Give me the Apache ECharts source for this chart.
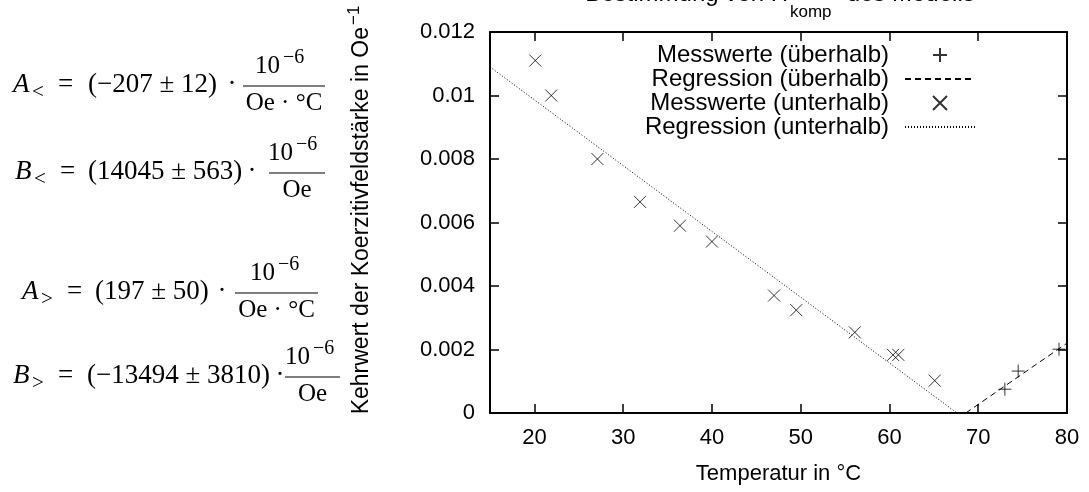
<!DOCTYPE html>
<html>
<head>
<meta charset="utf-8">
<script src="https://cdn.jsdelivr.net/npm/echarts@6/dist/echarts.min.js"></script>
<style>
  html, body { margin: 0; padding: 0; background: #fff; }
  #main { width: 1089px; height: 492px; }
</style>
</head>
<body>
<div id="main"></div>
<script>
// Messwerte unterhalb / oberhalb der Kompensationstemperatur
var belowX = [20.1, 21.9, 27.1, 31.9, 36.4, 40.0, 47.0, 49.5, 56.1, 60.4, 61.0, 65.1];
var belowY = [0.0111, 0.0100, 0.0080, 0.00665, 0.0059, 0.0054, 0.0037, 0.00324, 0.00254, 0.00183, 0.00183, 0.00102];
var aboveX = [73.0, 74.5, 79.1];
var aboveY = [0.00075, 0.00132, 0.00201];
// Regressionsgeraden (Endpunkte)
var regBelowX = [15, 67.6];
var regBelowY = [0.0109, 0];
var regAboveX = [68.6, 80];
var regAboveY = [0, 0.0022];
var xTicks = [20, 30, 40, 50, 60, 70, 80];
var names = ['Messwerte (überhalb)', 'Regression (überhalb)', 'Messwerte (unterhalb)', 'Regression (unterhalb)'];

var sans = 'Liberation Sans';
var serif = 'Liberation Serif';

function pairs(xs, ys) {
  return xs.map(function (x, i) { return [x, ys[i]]; });
}

var plusPath = 'path://M5,0L5,10M0,5L10,5';
var crossPath = 'path://M0,0L10,10M10,0L0,10';

function txt(x, y, s, font, align, valign) {
  return {
    type: 'text', x: x, y: y, silent: true,
    style: { text: s, font: font, fill: '#000', textAlign: align || 'left', textVerticalAlign: valign || 'middle' }
  };
}

// f: Positionen einer Formelzeile
function formula(f) {
  var y = f.y;
  return [
    txt(f.x, y, f.letter, 'italic 27px ' + serif),
    txt(f.x + 19, y + 7, f.sub, '21px ' + serif),
    txt(f.eq, y, '=', '27px ' + serif),
    txt(f.par, y, f.text, '27px ' + serif),
    txt(f.dot, y, '\u00b7', '27px ' + serif, 'center'),
    txt(f.num, y - 19, '10', '25px ' + serif, 'right'),
    txt(f.num + 3, y - 27, '\u22126', '20px ' + serif),
    { type: 'line', silent: true, shape: { x1: f.bar[0], y1: y + 1, x2: f.bar[1], y2: y + 1 }, style: { stroke: '#000', lineWidth: 1.2 } },
    txt((f.bar[0] + f.bar[1]) / 2, y + 18, f.den, '25px ' + serif, 'center')
  ];
}

var graphics = []
  .concat(formula({ x: 13, y: 85, letter: 'A', sub: '<', eq: 58, par: 88, text: '(\u2212207 \u00b1 12)', dot: 232, num: 280, bar: [243, 325], den: 'Oe \u00b7 \u00b0C' }))
  .concat(formula({ x: 15, y: 172, letter: 'B', sub: '<', eq: 60, par: 88, text: '(14045 \u00b1 563)', dot: 252, num: 293, bar: [269, 325], den: 'Oe' }))
  .concat(formula({ x: 22, y: 292, letter: 'A', sub: '>', eq: 67, par: 95, text: '(197 \u00b1 50)', dot: 222, num: 275, bar: [235, 318], den: 'Oe \u00b7 \u00b0C' }))
  .concat(formula({ x: 13, y: 376, letter: 'B', sub: '>', eq: 58, par: 87, text: '(\u221213494 \u00b1 3810)', dot: 280, num: 310, bar: [285, 340], den: 'Oe' }));

// Y-Achsentitel (gedreht)
graphics.push({
  type: 'group', x: 362, y: 27, rotation: Math.PI / 2, silent: true,
  children: [
    txt(0, 0, 'Kehrwert der Koerzitivfeldstärke in Oe', '23px ' + sans, 'right'),
    txt(2, -8, '\u22121', '17px ' + sans)
  ]
});

// Titel (oben abgeschnitten)
graphics.push(txt(788, 6.5, 'Bestimmung von H', '24px ' + sans, 'right', 'bottom'));
graphics.push(txt(790, 21, 'komp', '17px ' + sans, 'left', 'bottom'));
graphics.push(txt(840, 6.5, ' des Modells', '24px ' + sans, 'left', 'bottom'));

var myChart = echarts.init(document.getElementById('main'));

var axisCommon = {
  type: 'value',
  axisLine: { show: true, onZero: false, lineStyle: { color: '#000', width: 2 } },
  splitLine: { show: false }
};

var hideSymbol = { color: 'rgba(0,0,0,0)', borderWidth: 0, opacity: 0 };

var option = {
  animation: false,
  backgroundColor: '#fff',
  grid: { left: 490, right: 22, top: 32, bottom: 79, containLabel: false },
  legend: {
    data: [
      { name: names[0] },
      { name: names[1], itemStyle: hideSymbol },
      { name: names[2] },
      { name: names[3], itemStyle: hideSymbol }
    ],
    orient: 'vertical',
    align: 'right',
    left: 633,
    top: 43,
    padding: 0,
    itemGap: 0,
    itemWidth: 70,
    itemHeight: 14,
    textStyle: { fontFamily: sans, fontSize: 24, color: '#000', width: 256, align: 'right', lineHeight: 24, padding: [0, 11, 0, 0] }
  },
  xAxis: [
    Object.assign({}, axisCommon, {
      min: 15, max: 80, position: 'bottom',
      name: 'Temperatur in \u00b0C', nameLocation: 'middle', nameGap: 50,
      nameTextStyle: { fontFamily: sans, fontSize: 22, color: '#000' },
      axisTick: { show: true, inside: true, length: 9, customValues: xTicks, lineStyle: { color: '#000', width: 1.5 } },
      axisLabel: { show: true, customValues: xTicks, margin: 14, fontFamily: sans, fontSize: 22, color: '#000' }
    }),
    Object.assign({}, axisCommon, {
      min: 15, max: 80, position: 'top',
      axisTick: { show: true, inside: true, length: 9, customValues: xTicks, lineStyle: { color: '#000', width: 1.5 } },
      axisLabel: { show: false }
    })
  ],
  yAxis: [
    Object.assign({}, axisCommon, {
      min: 0, max: 0.012, interval: 0.002, position: 'left',
      axisTick: { show: true, inside: true, length: 9, lineStyle: { color: '#000', width: 1.5 } },
      axisLabel: { show: true, margin: 15, fontFamily: sans, fontSize: 22, color: '#000' }
    }),
    Object.assign({}, axisCommon, {
      min: 0, max: 0.012, interval: 0.002, position: 'right',
      axisTick: { show: true, inside: true, length: 9, lineStyle: { color: '#000', width: 1.5 } },
      axisLabel: { show: false }
    })
  ],
  series: [
    {
      name: names[0], type: 'scatter', data: pairs(aboveX, aboveY),
      symbol: plusPath, symbolSize: 13,
      itemStyle: { color: 'rgba(0,0,0,0)', borderColor: '#000', borderWidth: 1 }
    },
    {
      name: names[1], type: 'line', data: pairs(regAboveX, regAboveY),
      symbol: 'none', showSymbol: false,
      itemStyle: { color: '#000' },
      lineStyle: { color: '#000', width: 1, type: [6, 4] }
    },
    {
      name: names[2], type: 'scatter', data: pairs(belowX, belowY),
      symbol: crossPath, symbolSize: 12,
      itemStyle: { color: 'rgba(0,0,0,0)', borderColor: '#000', borderWidth: 1 }
    },
    {
      name: names[3], type: 'line', data: pairs(regBelowX, regBelowY),
      symbol: 'none', showSymbol: false,
      itemStyle: { color: '#000' },
      lineStyle: { color: '#000', width: 1, type: [1, 2] }
    }
  ],
  graphic: graphics
};

myChart.setOption(option);
</script>
</body>
</html>
